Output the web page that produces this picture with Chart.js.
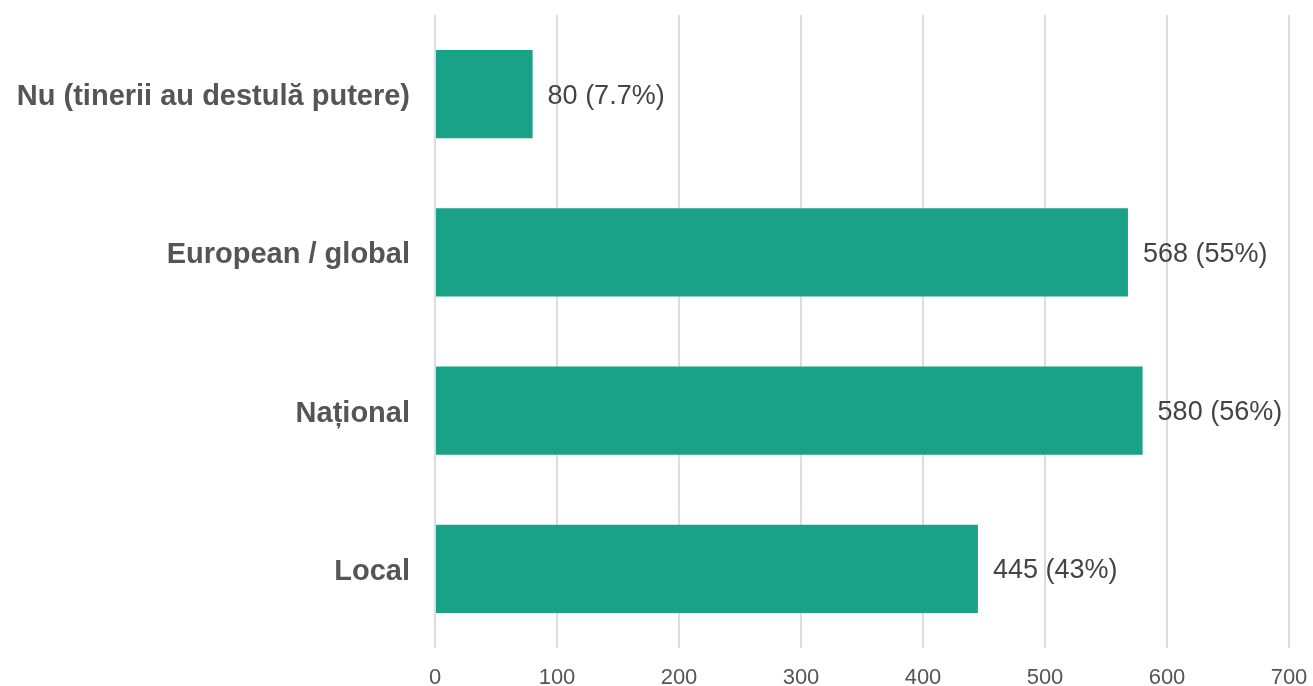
<!DOCTYPE html>
<html>
<head>
<meta charset="utf-8">
<script src="https://cdn.jsdelivr.net/npm/chart.js@4/dist/chart.umd.min.js"></script>
<style>
html,body{margin:0;padding:0;background:#fff;}
#wrap{width:1313px;height:686px;position:relative;}
</style>
</head>
<body>
<div id="wrap"><canvas id="c"></canvas></div>
<script>
const categories = ['Nu (tinerii au destulă putere)', 'European / global', 'Național', 'Local'];
const values = [80, 568, 580, 445];
const valueLabels = ['80 (7.7%)', '568 (55%)', '580 (56%)', '445 (43%)'];
const xTicks = [0, 100, 200, 300, 400, 500, 600, 700];

const barLabels = {
  id: 'barLabels',
  afterDatasetsDraw(chart) {
    const ctx = chart.ctx;
    const meta = chart.getDatasetMeta(0);
    ctx.save();
    ctx.font = '27px "Liberation Sans", Arial, sans-serif';
    ctx.fillStyle = '#444444';
    ctx.textAlign = 'left';
    ctx.textBaseline = 'middle';
    meta.data.forEach((bar, i) => {
      ctx.fillText(valueLabels[i], bar.x + 15, bar.y + 2);
    });
    ctx.restore();
  }
};

new Chart(document.getElementById('c'), {
  type: 'bar',
  data: {
    labels: categories,
    datasets: [{
      data: values,
      backgroundColor: '#19a287',
      borderWidth: 0,
      barPercentage: 0.557,
      categoryPercentage: 1
    }]
  },
  options: {
    indexAxis: 'y',
    responsive: true,
    maintainAspectRatio: false,
    animation: false,
    layout: { padding: { top: 15, right: 24, left: 0, bottom: 0 } },
    plugins: { legend: { display: false }, tooltip: { enabled: false } },
    scales: {
      x: {
        min: 0, max: 700,
        afterBuildTicks(scale) { scale.ticks = xTicks.map(v => ({ value: v })); },
        afterFit(scale) { scale.height = 38; scale.paddingLeft = 0; scale.paddingRight = 0; },
        grid: { color: '#dcdcdc', lineWidth: 2, drawTicks: false },
        border: { display: false },
        ticks: {
          padding: 17,
          color: '#555555',
          font: { family: '"Liberation Sans", Arial, sans-serif', size: 22 }
        }
      },
      y: {
        afterFit(scale) { scale.width = 435; scale.paddingTop = 0; scale.paddingBottom = 0; },
        grid: { display: false },
        border: { display: false },
        ticks: {
          padding: 17,
          labelOffset: 3,
          color: '#555555',
          font: { family: '"Liberation Sans", Arial, sans-serif', size: 29, weight: 'bold' }
        }
      }
    }
  },
  plugins: [barLabels]
});
</script>
</body>
</html>
